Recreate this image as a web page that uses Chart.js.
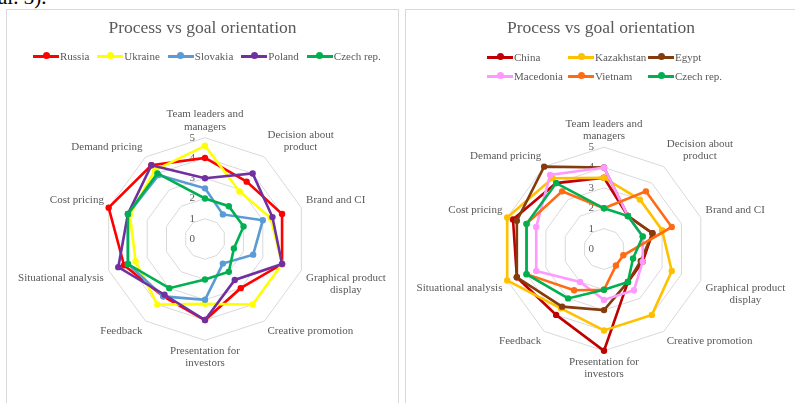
<!DOCTYPE html>
<html>
<head>
<meta charset="utf-8">
<script src="https://cdn.jsdelivr.net/npm/chart.js@4.4.1/dist/chart.umd.min.js"></script>
<style>
  body { margin: 0; background: #fff; width: 795px; height: 403px; overflow: hidden; position: relative; font-family: "Liberation Serif", serif; }
  .frag { position: absolute; left: -2px; top: -15px; font-size: 21px; color: #000; }
  .panel { position: absolute; top: 9px; height: 400px; border-left: 1px solid #d9d9d9; border-top: 1px solid #d9d9d9; }
  #p1 { left: 6px; width: 391px; border-right: 1px solid #d9d9d9; }
  #p2 { left: 405px; width: 390px; }
  canvas { position: absolute; left: 0; top: 0; }
  .legend { position: absolute; font-size: 11px; color: #595959; line-height: 13px; }
  #lg1 { left: 26px; top: 40px; display: flex; gap: 8px; }
  #lg2 { left: 81px; top: 41px; display: grid; grid-template-columns: 81px 80px 80px; row-gap: 6px; }
  .item { white-space: nowrap; }
  .mk { display: inline-block; width: 26px; height: 3px; vertical-align: middle; position: relative; margin-right: 1px; margin-top: -2px; }
  .mk i { position: absolute; left: 9.5px; top: -2.5px; width: 7px; height: 7px; border-radius: 50%; }
</style>
</head>
<body>
<div class="frag">al. 3).</div>
<div class="panel" id="p1"><canvas id="c1" width="391" height="393"></canvas><div class="legend" id="lg1"></div></div>
<div class="panel" id="p2"><canvas id="c2" width="390" height="393"></canvas><div class="legend" id="lg2"></div></div>
<script>
const axisLabels = [['Team leaders and', 'managers'], ['Decision about', 'product'], 'Brand and CI',
  ['Graphical product', 'display'], 'Creative promotion', ['Presentation for', 'investors'],
  'Feedback', 'Situational analysis', 'Cost pricing', 'Demand pricing'];
const tickValues = [0, 1, 2, 3, 4, 5];

// left chart
const namesA = ['Russia', 'Ukraine', 'Slovakia', 'Poland', 'Czech rep.'];
const colorsA = ['#FF0000', '#FFFF00', '#5B9BD5', '#7030A0', '#00B050'];
const russia = [4.0, 3.5, 4.0, 4.0, 3.0, 4.0, 3.5, 4.2, 5.0, 4.5];
const ukraine = [4.6, 2.9, 3.4, 4.0, 4.0, 3.2, 4.0, 3.6, 3.9, 4.2];
const slovakia = [2.5, 1.5, 3.0, 2.5, 1.5, 3.0, 3.5, 4.0, 4.0, 3.9];
const poland = [3.0, 4.0, 3.5, 4.0, 2.5, 4.0, 3.4, 4.5, 4.0, 4.5];
const czech = [2.0, 2.0, 2.0, 1.5, 2.0, 2.0, 3.0, 4.0, 4.0, 4.0];

// right chart
const namesB = ['China', 'Kazakhstan', 'Egypt', 'Macedonia', 'Vietnam', 'Czech rep.'];
const colorsB = ['#C00000', '#FFC000', '#843C0C', '#FF99FF', '#FF6A13', '#00B050'];
const china = [3.5, 2.0, 2.5, 2.0, 2.0, 5.0, 4.0, 4.5, 4.7, 4.0];
const kazakhstan = [3.5, 3.0, 3.0, 3.5, 4.0, 4.0, 3.6, 5.0, 5.0, 4.3];
const egypt = [4.0, 2.0, 2.5, 1.9, 2.0, 3.0, 3.5, 4.5, 4.5, 5.0];
const macedonia = [4.0, 2.0, 2.0, 2.0, 2.5, 2.5, 2.0, 3.5, 3.5, 4.5];
const vietnam = [2.0, 3.5, 3.5, 1.0, 1.0, 2.0, 2.5, 4.0, 4.0, 3.5];

const grey = '#595959';
const serif = 'Liberation Serif';
const labelSize = 11, labelLine = 1.1;

// tick numbers left of the top axis, and point labels with centred lines
const axisText = {
  id: 'axisText',
  beforeDatasetsDraw(chart) {
    const s = chart.scales.r, ctx = chart.ctx;
    ctx.save();
    ctx.font = labelSize + 'px "' + serif + '"';
    ctx.fillStyle = grey;
    ctx.textAlign = 'right';
    ctx.textBaseline = 'middle';
    tickValues.forEach(v => {
      ctx.fillText(String(v), s.xCenter - 10, s.yCenter - s.getDistanceFromCenterForValue(v));
    });
    ctx.textAlign = 'center';
    const lh = labelSize * labelLine;
    axisLabels.forEach((lab, i) => {
      const box = s.getPointLabelPosition(i);
      const lines = Array.isArray(lab) ? lab : [lab];
      const cx = (box.left + box.right) / 2;
      lines.forEach((t, k) => ctx.fillText(t, cx, box.top + lh * (k + 0.5)));
    });
    ctx.restore();
  }
};

function makeSets(names, colors, series) {
  return series.map((data, i) => ({
    label: names[i],
    data,
    borderColor: colors[i],
    backgroundColor: colors[i],
    pointBackgroundColor: colors[i],
    pointBorderWidth: 0,
    pointRadius: 3.2,
    borderWidth: 2.6,
    fill: false,
    order: series.length - i
  }));
}

function radar(id, names, colors, series, padTop, padBottom) {
  return new Chart(document.getElementById(id), {
    type: 'radar',
    data: { labels: axisLabels, datasets: makeSets(names, colors, series) },
    options: {
      responsive: false,
      animation: false,
      devicePixelRatio: 1,
      layout: { padding: { top: 0, bottom: padBottom, left: 0, right: 0 } },
      plugins: {
        legend: { display: false },
        tooltip: { enabled: false },
        title: {
          display: true,
          text: 'Process vs goal orientation',
          color: grey,
          font: { family: serif, size: 17.5, weight: 'normal', lineHeight: 1.2 },
          padding: { top: 7.5, bottom: padTop }
        }
      },
      scales: {
        r: {
          min: 0, max: 5,
          ticks: { display: false, stepSize: 1 },
          grid: { color: '#D9D9D9', lineWidth: 1 },
          angleLines: { display: false },
          pointLabels: { color: 'rgba(0,0,0,0)', padding: 5, font: { family: serif, size: labelSize, lineHeight: labelLine } }
        }
      }
    },
    plugins: [axisText]
  });
}

function legend(id, names, colors) {
  const el = document.getElementById(id);
  names.forEach((n, i) => {
    const item = document.createElement('span');
    item.className = 'item';
    item.innerHTML = '<span class="mk" style="background:' + colors[i] + '"><i style="background:' + colors[i] + '"></i></span>' + n;
    el.appendChild(item);
  });
}

radar('c1', namesA, colorsA, [russia, ukraine, slovakia, poland, czech], 70, 33.5);
radar('c2', namesB, colorsB, [china, kazakhstan, egypt, macedonia, vietnam, czech], 79.5, 22);
legend('lg1', namesA, colorsA);
legend('lg2', namesB, colorsB);
</script>
</body>
</html>
